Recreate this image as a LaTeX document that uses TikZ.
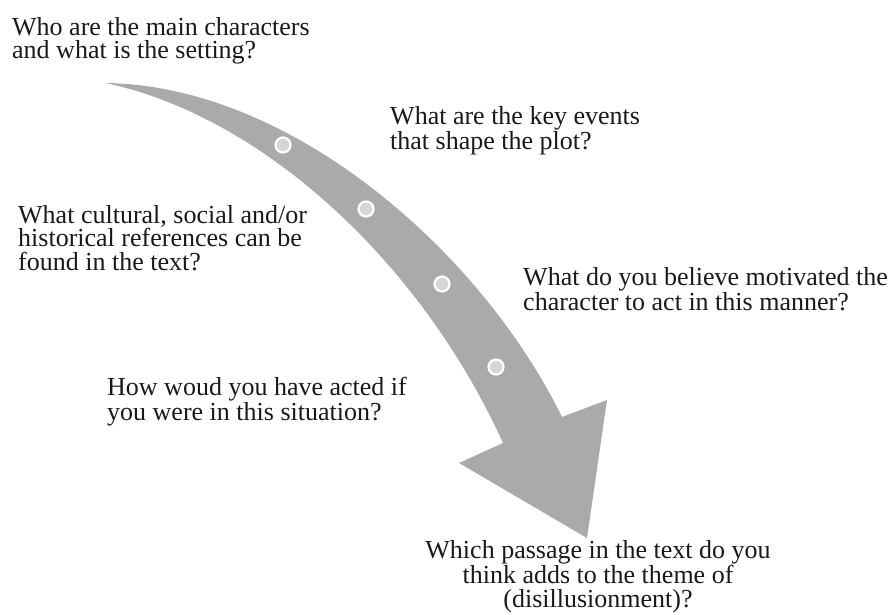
\documentclass[tikz,border=0pt]{standalone}
\usepackage{fontspec}
\setmainfont{Liberation Serif}
\definecolor{arrowgray}{HTML}{AAAAAA}
\definecolor{dotgray}{HTML}{D6D6D6}
\tikzset{
  question/.style={inner sep=0pt, font=\fontsize{26}{23.5}\selectfont, text=black!90},
  qleft/.style={question, anchor=base west, align=left},
  qcenter/.style={question, anchor=base, align=center},
  stepdot/.style={circle, fill=dotgray, draw=white, line width=2.2pt, minimum size=15pt, inner sep=0pt},
}
\begin{document}
\begin{tikzpicture}[x=1pt, y=-1pt]
\useasboundingbox (0,0) rectangle (896,615);
% arrow
\coordinate (tail) at (105,83);
\coordinate (rj) at (562,417);
\coordinate (rb) at (607,400);
\coordinate (tip) at (587,538);
\coordinate (lb) at (459,463);
\coordinate (lj) at (503,443);
\fill[arrowgray] (tail) .. controls (290,85) and (480,250) .. (rj)
  -- (rb) -- (tip) -- (lb) -- (lj)
  .. controls (420,260) and (260,115) .. (tail) -- cycle;
% dots
\node[stepdot] (d1) at (283,145) {};
\node[stepdot] (d2) at (366,209) {};
\node[stepdot] (d3) at (442,284) {};
\node[stepdot] (d4) at (496,367) {};
% texts (anchored at the baseline of the last line)
\node[qleft] (q1) at (12,59) {Who are the main characters\\and what is the setting?};
\node[qleft] (q2) at (390,149) {What are the key events\\that shape the plot?};
\node[qleft] (q3) at (18,270) {What cultural, social and/or\\historical references can be\\found in the text?};
\node[qleft] (q4) at (523,310) {What do you believe motivated the\\character to act in this manner?};
\node[qleft] (q5) at (107,420) {How woud you have acted if\\you were in this situation?};
\node[qcenter] (q6) at (598,607) {Which passage in the text do you\\think adds to the theme of\\(disillusionment)?};
\end{tikzpicture}
\end{document}
